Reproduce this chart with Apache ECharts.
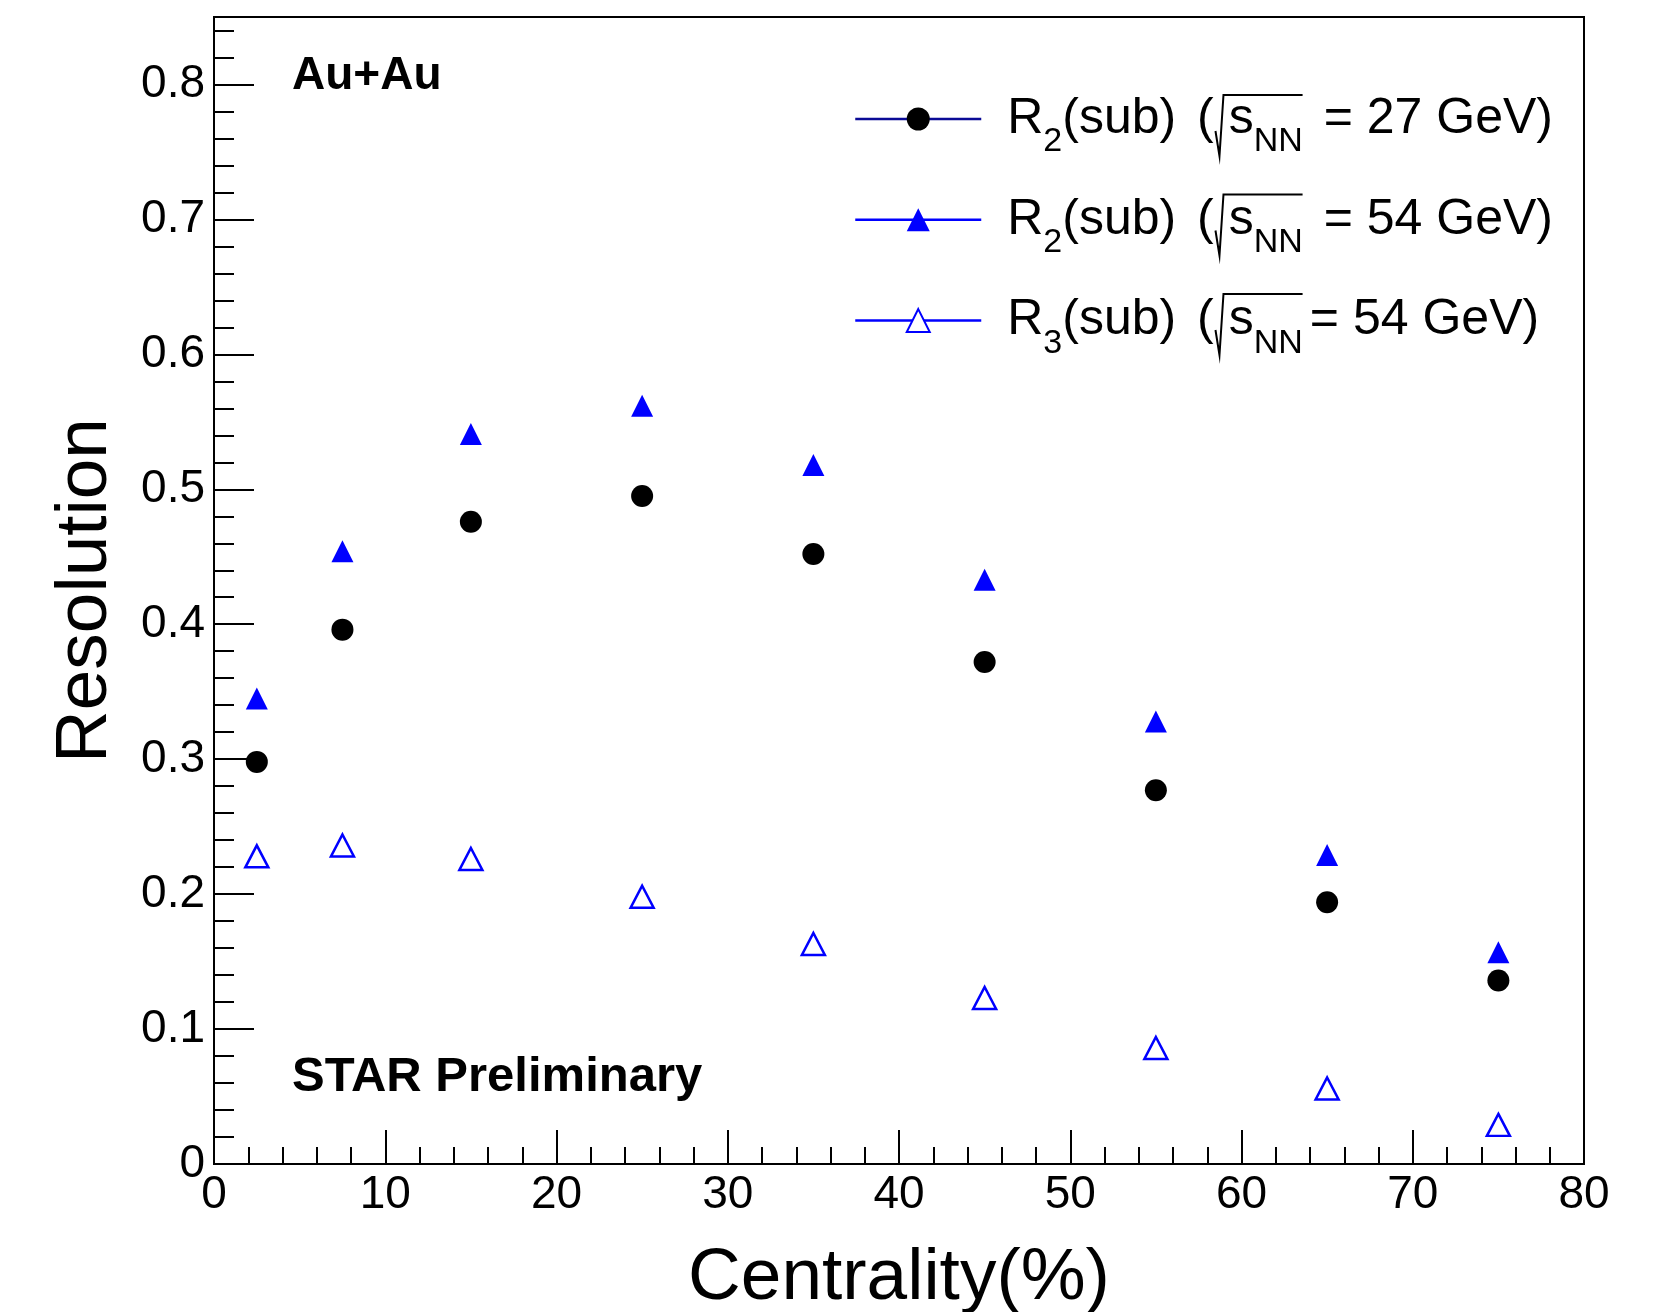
<!DOCTYPE html>
<html>
<head>
<meta charset="utf-8">
<script src="https://cdn.jsdelivr.net/npm/echarts@6/dist/echarts.min.js"></script>
<style>
html,body{margin:0;padding:0;background:#fff;}
#chart{width:1654px;height:1312px;}
</style>
</head>
<body>
<div id="chart"></div>
<script>
// ---- data ----
const centrality = [2.5, 7.5, 15, 25, 35, 45, 55, 65, 75];
const r2_27 = [0.298, 0.396, 0.476, 0.495, 0.452, 0.372, 0.277, 0.194, 0.136];
const r2_54 = [0.345, 0.454, 0.541, 0.562, 0.518, 0.433, 0.328, 0.229, 0.157];
const r3_54 = [0.228, 0.236, 0.226, 0.198, 0.163, 0.123, 0.086, 0.056, 0.029];
const seriesNames = ['R2_27', 'R2_54', 'R3_54'];
const harmonic = ['2', '2', '3'];
const energyText = [' = 27 GeV)', ' = 54 GeV)', '= 54 GeV)'];
const xTitle = 'Centrality(%)';
const yTitle = 'Resolution';
const labelTop = 'Au+Au';
const labelBottom = 'STAR Preliminary';

const FONT = 'Liberation Sans, Arial, Helvetica, sans-serif';
function pairs(xs, ys) { return xs.map((x, i) => [x, ys[i]]); }

// legend layout parameters
const LEG_LEFT = 854, LEG_TOP = 94, ITEM_W = 126, ITEM_H = 28.75, LINE_H = 82, ITEM_GAP = 35.8;
const ROW0 = 118, ROW_PITCH = 99.5;   // centre of the first legend row, row spacing
const FS = 50, SUBFS = 34, R_PAD = 21, PAREN_PAD = 7, RAD_W = 15, EQ_PAD = 7;

const legendText = {};
seriesNames.forEach((n, i) => {
  legendText[n] = '{r|R}{sb|' + harmonic[i] + '}{n|(sub)}{np| (}{rad| }{n|s}{sb|NN}{ne|' + energyText[i] + '}';
});

// measure text to place the radical sign / overline decoration
const mctx = document.createElement('canvas').getContext('2d');
function tw(text, size) { mctx.font = size + 'px ' + FONT; return mctx.measureText(text).width; }

const radicals = seriesNames.map((n, i) => {
  const x0 = LEG_LEFT + ITEM_W + 5 + R_PAD + tw('R', FS) + tw(harmonic[i], SUBFS) + tw('(sub)', FS) + PAREN_PAD + tw(' (', FS);
  const xEnd = x0 + RAD_W + tw('s', FS) + tw('NN', SUBFS) + 1;
  const c = ROW0 + i * ROW_PITCH;
  return {
    type: 'polyline', silent: true,
    shape: {points: [[x0 + 3, c + 13], [x0 + 7, c + 38], [x0 + 11, c - 23], [xEnd, c - 23]]},
    style: {stroke: '#000', lineWidth: 2, fill: null, lineJoin: 'miter'}
  };
});

const chart = echarts.init(document.getElementById('chart'), null, {renderer: 'canvas'});
const option = {
  backgroundColor: '#fff',
  animation: false,
  grid: {left: 214, right: 70, top: 17, bottom: 148, show: true, borderColor: '#000', borderWidth: 2,
         backgroundColor: 'transparent', containLabel: false, outerBoundsMode: 'none'},
  xAxis: {
    type: 'value', min: 0, max: 80, interval: 10,
    name: xTitle, nameLocation: 'middle', nameGap: 78,
    nameTextStyle: {fontSize: 73, fontFamily: FONT, color: '#000'},
    axisLine: {show: true, onZero: false, lineStyle: {color: '#000', width: 2}},
    axisTick: {show: true, inside: true, length: 34, lineStyle: {color: '#000', width: 2}},
    minorTick: {show: true, splitNumber: 5, length: 17, lineStyle: {color: '#000', width: 2}},
    axisLabel: {fontSize: 46, fontFamily: FONT, color: '#000', margin: 8},
    splitLine: {show: false}
  },
  yAxis: [{
    type: 'value', min: 0, max: 0.85, interval: 0.1,
    name: yTitle, nameLocation: 'middle', nameGap: 92,
    nameTextStyle: {fontSize: 73, fontFamily: FONT, color: '#000'},
    axisLine: {show: true, onZero: false, lineStyle: {color: '#000', width: 2}},
    axisTick: {show: true, inside: true, length: 40, lineStyle: {color: '#000', width: 2}},
    axisLabel: {fontSize: 46, fontFamily: FONT, color: '#000', margin: 9,
      formatter: v => (Math.abs(v * 10 - Math.round(v * 10)) < 1e-6 ? String(Math.round(v * 10) / 10) : '')},
    splitLine: {show: false}
  }, {
    type: 'value', min: 0, max: 0.85, interval: 0.02, position: 'left', offset: 0,
    axisLine: {show: false},
    axisTick: {show: true, inside: true, length: 20, lineStyle: {color: '#000', width: 2}},
    axisLabel: {show: false},
    splitLine: {show: false}
  }],
  legend: {
    orient: 'vertical', left: LEG_LEFT, top: LEG_TOP, padding: 0,
    itemWidth: ITEM_W, itemHeight: ITEM_H, itemGap: ITEM_GAP,
    selectedMode: false,
    formatter: name => legendText[name],
    textStyle: {
      fontFamily: FONT, fontSize: FS, color: '#000',
      rich: {
        r: {fontFamily: FONT, fontSize: FS, color: '#000', lineHeight: LINE_H, padding: [0, 0, 0, R_PAD]},
        n: {fontFamily: FONT, fontSize: FS, color: '#000', lineHeight: LINE_H},
        ne: {fontFamily: FONT, fontSize: FS, color: '#000', lineHeight: LINE_H, padding: [0, 0, 0, EQ_PAD]},
        np: {fontFamily: FONT, fontSize: FS, color: '#000', lineHeight: LINE_H, padding: [0, 0, 0, PAREN_PAD]},
        rad: {fontFamily: FONT, fontSize: FS, color: '#000', lineHeight: LINE_H, width: RAD_W},
        sb: {fontFamily: FONT, fontSize: SUBFS, color: '#000', padding: [46, 0, 0, 0]}
      }
    },
    data: [
      {name: 'R2_27', lineStyle: {color: '#0a0a96', width: 2.5, opacity: 1}},
      {name: 'R2_54', lineStyle: {color: '#0000ff', width: 2.5, opacity: 1}},
      {name: 'R3_54', lineStyle: {color: '#0000ff', width: 2.5, opacity: 1}}
    ]
  },
  series: [
    {name: seriesNames[0], type: 'line', data: pairs(centrality, r2_27), symbol: 'circle', symbolSize: 22,
     lineStyle: {width: 0, opacity: 0}, itemStyle: {color: '#000', borderWidth: 0}},
    {name: seriesNames[1], type: 'line', data: pairs(centrality, r2_54), symbol: 'triangle', symbolSize: 22,
     lineStyle: {width: 0, opacity: 0}, itemStyle: {color: '#0000ff', borderWidth: 0}},
    {name: seriesNames[2], type: 'line', data: pairs(centrality, r3_54), symbol: 'triangle', symbolSize: [23, 22],
     lineStyle: {width: 0, opacity: 0}, itemStyle: {color: '#ffffff', borderColor: '#0000ff', borderWidth: 2.5}}
  ],
  graphic: [
    {type: 'text', x: 292, y: 76, style: {text: labelTop, font: 'bold 46px ' + FONT, fill: '#000', verticalAlign: 'middle'}},
    {type: 'text', x: 292, y: 1077, style: {text: labelBottom, font: 'bold 49px ' + FONT, fill: '#000', verticalAlign: 'middle'}}
  ].concat(radicals)
};
chart.setOption(option);
</script>
</body>
</html>
